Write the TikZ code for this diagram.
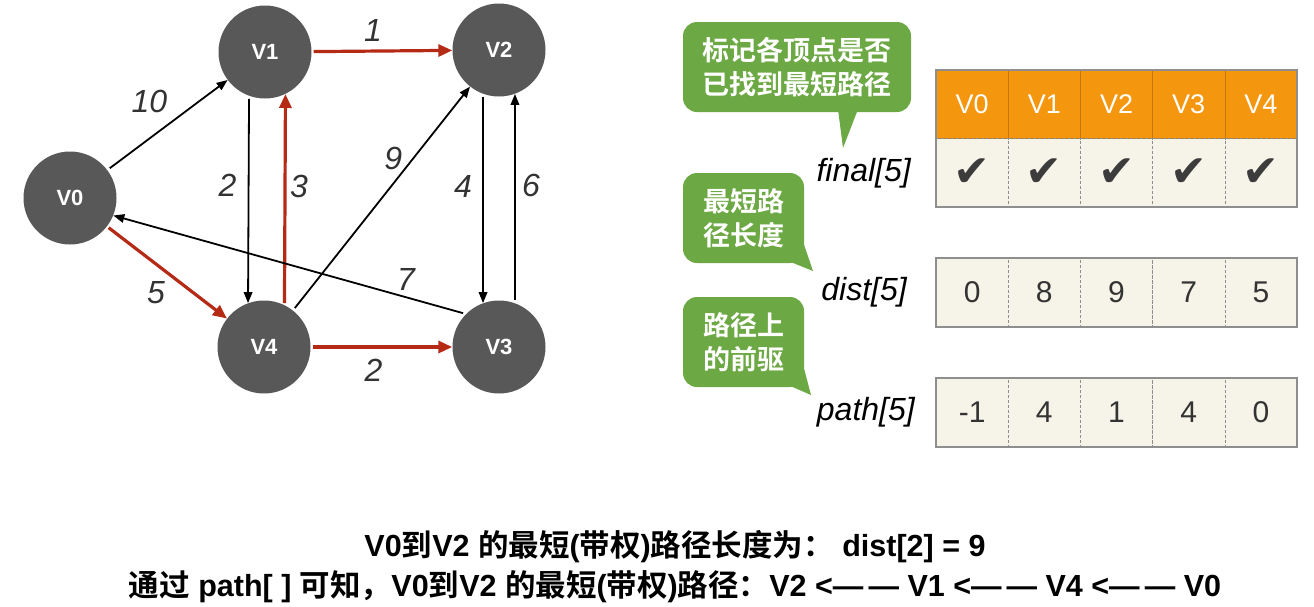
\documentclass[tikz,border=0pt]{standalone}
\usepackage{fontspec}
\setmainfont{Liberation Sans}
\newfontfamily\cjk[BoldFont={Noto Sans CJK SC Bold}]{Noto Sans CJK SC}
\newfontfamily\symb{DejaVu Sans}
\usetikzlibrary{positioning,arrows.meta,calc,fit}
\definecolor{ink}{HTML}{333333}
\definecolor{vertex}{HTML}{585858}
\definecolor{path}{HTML}{B52A15}
\definecolor{leaf}{HTML}{6CA843}
\definecolor{head}{HTML}{F5960F}
\definecolor{cream}{HTML}{F6F4E8}
\definecolor{rim}{HTML}{8E8E8E}
\definecolor{tick}{HTML}{3C3C3C}
\newcommand{\zh}[1]{{\cjk #1}}
\newcommand{\chk}{{\symb\fontsize{44}{44}\selectfont\color{tick}✔}}

\begin{document}
\begin{tikzpicture}[x=1pt,y=-1pt,
  vtx/.style={circle,fill=vertex,minimum size=93pt,inner sep=0pt,text=white,
              font=\bfseries\fontsize{22}{22}\selectfont},
  ar/.style={-{Triangle[length=11pt,width=8.5pt]},draw=black,line width=1.8pt,shorten <=3pt},
  hot/.style={-{Triangle[length=14pt,width=12pt]},draw=path,line width=3.2pt,shorten <=2pt},
  lbl/.style={inner sep=0pt,text=ink,font=\itshape\fontsize{32}{32}\selectfont},
  cell/.style={minimum width=72.2pt,minimum height=68.5pt,inner sep=0pt,outer sep=0pt,
               fill=cream,draw=rim,densely dashed,line width=0.6pt,text=ink,
               font=\fontsize{30}{30}\selectfont},
  hd/.style={cell,fill=head,draw=head!80!black,solid,text=white,
             font=\fontsize{27}{27}\selectfont},
  rowbox/.style={draw=rim,line width=1.6pt,inner sep=0pt,outer sep=0pt},
  rowlbl/.style={inner sep=0pt,text=black,font=\itshape\fontsize{32}{32}\selectfont},
  bub/.style={fill=leaf,rounded corners=14pt,text=white,align=center,inner sep=0pt,
              minimum height=90pt,font=\cjk\bfseries\fontsize{27}{34}\selectfont},
  note/.style={inner sep=0pt,text=black,font=\bfseries\fontsize{30.5}{30.5}\selectfont}
]
\useasboundingbox (0,0) rectangle (1314,606);

% graph
\node[vtx] (v0) at (70,198) {V0};
\node[vtx] (v1) at (265,52) {V1};
\node[vtx] (v2) at (499,50) {V2};
\node[vtx] (v3) at (499,347) {V3};
\node[vtx] (v4) at (264,347) {V4};

\draw[ar] (v0) -- node[lbl,shift={(-18,-24)}]{10} (v1);
\draw[hot] (v1) -- node[lbl,shift={(-9,-21)}]{1} (v2);
\draw[ar] (v1.-110) -- node[lbl,shift={(-21,-14)}]{2} (v4.110);
\draw[hot] (v4.64.5) -- node[lbl,shift={(14,-13)}]{3} (v1.-64.5);
\draw[hot] (v0) -- node[lbl,shift={(-11,20)}]{5} (v4);
\draw[ar] (v4) -- node[lbl,pos=.68,shift={(-20,0)}]{9} (v2);
\draw[ar] (v2.-110) -- node[lbl,shift={(-20,-12)}]{4} (v3.110);
\draw[ar] (v3.70) -- node[lbl,shift={(16,-13)}]{6} (v2.-70);
\draw[ar] (v3.135) -- node[lbl,pos=.17,shift={(0,-18)}]{7} (v0.-22);
\draw[hot] (v4) -- node[lbl,shift={(-8,23)}]{2} (v3);

% table
\node[hd] (h0) at (972.1,104.5) {V0};
\node[hd,right=0pt of h0] (h1) {V1};
\node[hd,right=0pt of h1] (h2) {V2};
\node[hd,right=0pt of h2] (h3) {V3};
\node[hd,right=0pt of h3] (h4) {V4};

\node[cell,below=0pt of h0] (f0) {\chk};
\node[cell,right=0pt of f0] (f1) {\chk};
\node[cell,right=0pt of f1] (f2) {\chk};
\node[cell,right=0pt of f2] (f3) {\chk};
\node[cell,right=0pt of f3] (f4) {\chk};
\node[rowbox,fit=(h0)(f4)] (tf) {};

\node[cell] (d0) at (972.1,292.5) {0};
\node[cell,right=0pt of d0] (d1) {8};
\node[cell,right=0pt of d1] (d2) {9};
\node[cell,right=0pt of d2] (d3) {7};
\node[cell,right=0pt of d3] (d4) {5};
\node[rowbox,fit=(d0)(d4)] (td) {};

\node[cell] (p0) at (972.1,412.5) {-1};
\node[cell,right=0pt of p0] (p1) {4};
\node[cell,right=0pt of p1] (p2) {1};
\node[cell,right=0pt of p2] (p3) {4};
\node[cell,right=0pt of p3] (p4) {0};
\node[rowbox,fit=(p0)(p4)] (tp) {};

\node[rowlbl,left=25pt of f0] (lf) {final[5]};
\node[rowlbl,left=29pt of d0] (ld) {dist[5]};
\node[rowlbl,left=21pt of p0] (lp) {path[5]};

% notes
\node[bub,minimum width=228pt] (b1) at (797,67) {标记各顶点是否\\已找到最短路径};
\node[bub,minimum width=121pt] (b2) at (743.5,218) {最短路\\径长度};
\node[bub,minimum width=121pt] (b3) at (743.5,342) {路径上\\的前驱};
\coordinate (t1) at (843,148);
\coordinate (t2) at (813,271);
\coordinate (t3) at (811,395);
\fill[leaf] ([shift={(41,-3)}]b1.south) -- ([shift={(61,-3)}]b1.south) -- (t1) -- cycle;
\fill[leaf] ([shift={(-18,-3)}]b2.south east) -- ([shift={(0,-18)}]b2.south east) -- (t2) -- cycle;
\fill[leaf] ([shift={(-18,-3)}]b3.south east) -- ([shift={(0,-18)}]b3.south east) -- (t3) -- cycle;

\node[note] (n1) at (675,547) {V0\zh{到}V2 \zh{的最短}(\zh{带权})\zh{路径长度为：} dist[2] = 9};
\node[note] (n2) at (675,587) {\zh{通过} path[ ] \zh{可知，}V0\zh{到}V2 \zh{的最短}(\zh{带权})\zh{路径：}V2 <—\,— V1 <—\,— V4 <—\,— V0};
\end{tikzpicture}
\end{document}
